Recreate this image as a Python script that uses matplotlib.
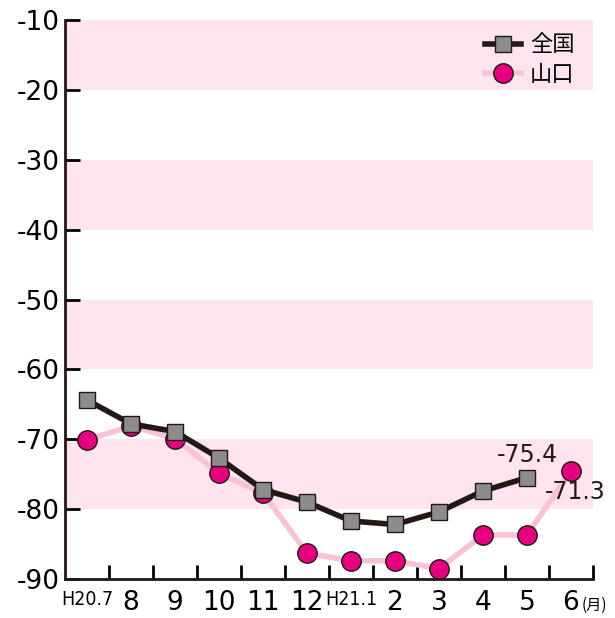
import numpy as np
import matplotlib
matplotlib.use('Agg')
import matplotlib.pyplot as plt

plt.rcParams['font.family'] = ['Noto Sans CJK JP', 'DejaVu Sans']

# データ
months = ['H20.7', '8', '9', '10', '11', '12', 'H21.1', '2', '3', '4', '5', '6']
zenkoku = [-64.4, -67.8, -68.9, -72.7, -77.2, -79.0, -81.7, -82.2, -80.4, -77.4, -75.5, np.nan]
yamaguchi = [-70.1, -68.1, -69.9, -74.9, -77.7, -86.3, -87.4, -87.4, -88.5, -83.7, -83.7, -74.5]
labels = ['-75.4', '-71.3']
yticks = [-90, -80, -70, -60, -50, -40, -30, -20, -10]

fig = plt.figure(figsize=(6.15, 6.18), dpi=100)
ax = fig.add_axes([65 / 615, 1 - 579 / 618, (593 - 65) / 615, (579 - 20) / 618])

x = np.arange(len(months))

# ピンクの帯
for lo in [-20, -40, -60, -80]:
    ax.axhspan(lo, lo + 10, color='#fde4ee', zorder=0, lw=0)

ax.plot(x, zenkoku, color='#231815', lw=4, marker='s', ms=12,
        mfc='#8c8c8c', mec='#231815', mew=1, label='全国', zorder=3)
ax.plot(x, yamaguchi, color='#f8c3d9', lw=4, marker='o', ms=14,
        mfc='#e4007f', mec='#231815', mew=1, label='山口', zorder=2)

ax.text(10, zenkoku[10] + 1.5, labels[0], ha='center', va='bottom', fontsize=17,
        family='DejaVu Sans', color='#231815')
ax.text(11.1, yamaguchi[11] - 1.4, labels[1], ha='center', va='top', fontsize=17,
        family='DejaVu Sans', color='#231815')

ax.set_xlim(-0.5, 11.5)
ax.set_ylim(-90, -10)
ax.set_yticks(yticks)
ax.set_yticklabels([str(v) for v in yticks], fontsize=19, family='DejaVu Sans')
ax.tick_params(axis='y', direction='in', length=11, width=2, pad=4)

ax.set_xticks(x)
ax.set_xticklabels(months, fontsize=19, family='DejaVu Sans')
ax.set_xticks(np.arange(0.5, 11.6, 1), minor=True)
ax.tick_params(axis='x', which='major', length=0, pad=8)
ax.tick_params(axis='x', which='minor', direction='in', length=10, width=2)
for t in ax.get_xticklabels():
    if t.get_text().startswith('H'):
        t.set_fontsize(14)
        t.set_fontstretch('condensed')
fig.text(582 / 615, 1 - 605 / 618, '(月)', fontsize=11, ha='left', va='center')

for s in ['top', 'right']:
    ax.spines[s].set_visible(False)
for s in ['left', 'bottom']:
    ax.spines[s].set_linewidth(2)
    ax.spines[s].set_color('#231815')

ax.legend(loc='upper right', frameon=False, fontsize=16, handlelength=1.6,
          handletextpad=0.4, borderaxespad=0.2, labelspacing=0.3,
          bbox_to_anchor=(0.99, 1.0))

fig.savefig('out.png', dpi=100)
